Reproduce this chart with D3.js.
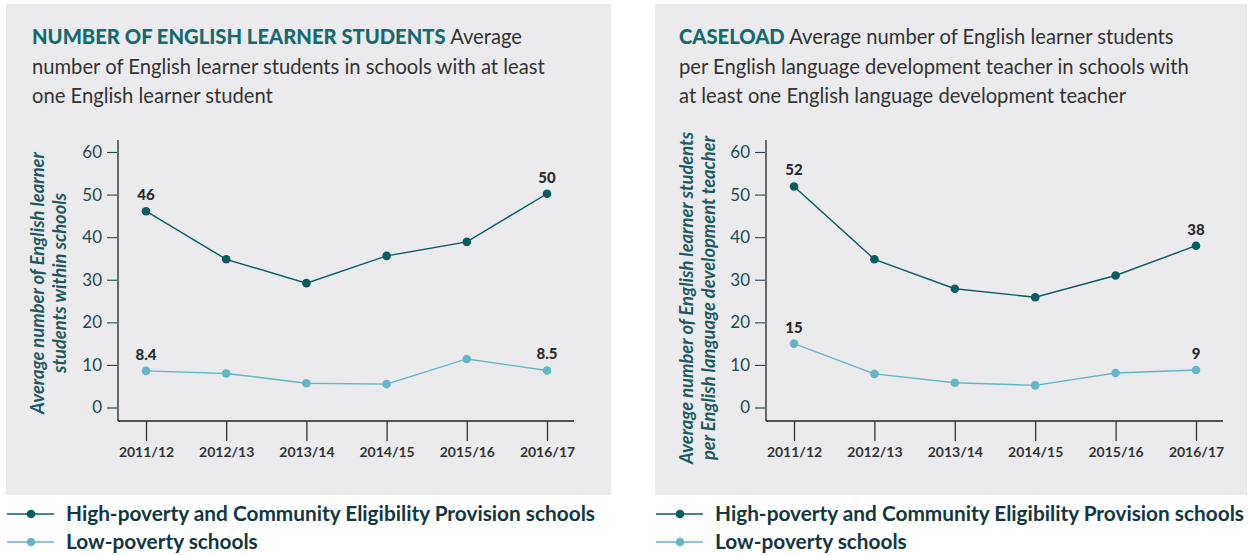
<!DOCTYPE html>
<html>
<head>
<meta charset="utf-8">
<script src="https://cdn.jsdelivr.net/npm/d3@7/dist/d3.min.js"></script>
<style>
  body { margin: 0; background: #fff; }
  svg { display: block; font-family: Lato, "Open Sans", sans-serif; }
</style>
</head>
<body>
<div id="chart"></div>
<script>
// values
const years = ["2011/12", "2012/13", "2013/14", "2014/15", "2015/16", "2016/17"]
const countHigh = [46.1, 34.8, 29.2, 35.6, 38.9, 50.2]
const countLow = [8.6, 8.0, 5.7, 5.5, 11.4, 8.7]
const caseHigh = [51.9, 34.8, 27.9, 25.9, 31.0, 38.0]
const caseLow = [15.0, 7.9, 5.8, 5.2, 8.1, 8.8]
// labels printed on the first and last point
const countLabels = { high: ["46", "50"], low: ["8.4", "8.5"] }
const caseLabels = { high: ["52", "38"], low: ["15", "9"] }
const yTicks = [0, 10, 20, 30, 40, 50, 60]
const seriesNames = ["High-poverty and Community Eligibility Provision schools", "Low-poverty schools"]

const darkTeal = "#0b5c61"
const lightBlue = "#63b6c7"
const titleTeal = "#146a6d"
const axisText = "#1e4850"

const width = 1252, height = 555

const svg = d3.select("#chart")
    .append("svg")
    .attr("width", width)
    .attr("height", height)

function drawPanel(opt) {
    const g = svg.append("g")

    g.append("rect")
        .attr("x", opt.bg[0]).attr("y", 4)
        .attr("width", opt.bg[1] - opt.bg[0]).attr("height", 491)
        .attr("fill", "#ebebed")

    // title block
    const title = g.append("text")
        .attr("x", opt.titleX)
        .attr("font-size", 20.2)
        .attr("fill", "#333")
    opt.title.forEach((line, i) => {
        const t = title.append("tspan")
            .attr("x", opt.titleX)
            .attr("y", 44 + i * 29.5)
        if (i == 0) {
            t.append("tspan")
                .attr("font-weight", 900)
                .attr("fill", titleTeal)
                .text(opt.bold)
            t.append("tspan").text(" " + line)
        } else {
            t.text(line)
        }
    })

    const x = d3.scalePoint()
        .domain(years)
        .range(opt.xRange)
    const y = d3.scaleLinear()
        .domain([0, 60])
        .range([407.5, 152])

    const axisY = 421

    // y axis
    g.append("line")
        .attr("x1", opt.axisX).attr("x2", opt.axisX)
        .attr("y1", 140).attr("y2", axisY)
        .attr("stroke", "#222").attr("stroke-width", 1.3)
    const ya = g.append("g")
        .attr("transform", `translate(${opt.axisX - 1},0)`)
        .call(d3.axisLeft(y).tickValues(yTicks).tickSize(10).tickPadding(5))
    ya.select(".domain").remove()
    ya.selectAll("line").attr("stroke", axisText).attr("stroke-width", 1.1)
    ya.selectAll("text")
        .attr("font-size", 17)
        .attr("font-family", "Lato, sans-serif")
        .attr("fill", axisText)

    // x axis
    g.append("line")
        .attr("x1", opt.axisX).attr("x2", opt.axisEnd)
        .attr("y1", axisY).attr("y2", axisY)
        .attr("stroke", "#222").attr("stroke-width", 1.3)
    const xa = g.append("g")
        .attr("transform", `translate(0,${axisY})`)
        .call(d3.axisBottom(x).tickSize(20).tickPadding(6))
    xa.select(".domain").remove()
    xa.selectAll("line").attr("stroke", "#333").attr("stroke-width", 1.3)
    xa.selectAll("text")
        .attr("font-size", 14)
        .attr("font-weight", 700)
        .attr("font-family", "Lato, sans-serif")
        .attr("fill", "#333")

    // y axis title
    const yt = g.append("text")
        .attr("transform", `translate(${opt.yTitleX},${opt.yTitleY}) rotate(-90)`)
        .attr("text-anchor", "middle")
        .attr("font-size", 18.3)
        .attr("font-weight", 700)
        .attr("font-style", "italic")
        .attr("fill", "#1c5a60")
    opt.yTitle.forEach((line, i) => {
        yt.append("tspan")
            .attr("x", 0)
            .attr("dy", i == 0 ? 0 : 22)
            .text(line)
    })

    const line = d3.line()
        .x((d, i) => x(years[i]))
        .y(d => y(d))

    const series = [
        { values: opt.high, color: darkTeal, labels: opt.labels.high },
        { values: opt.low, color: lightBlue, labels: opt.labels.low }
    ]
    series.forEach(s => {
        g.append("path")
            .datum(s.values)
            .attr("d", line)
            .attr("fill", "none")
            .attr("stroke", s.color)
            .attr("stroke-width", 1.4)
        g.selectAll(null)
            .data(s.values)
            .join("circle")
            .attr("cx", (d, i) => x(years[i]))
            .attr("cy", d => y(d))
            .attr("r", 4.3)
            .attr("fill", s.color)
        const ends = [0, s.values.length - 1]
        ends.forEach((idx, k) => {
            g.append("text")
                .attr("x", x(years[idx]))
                .attr("y", y(s.values[idx]) - 11)
                .attr("text-anchor", "middle")
                .attr("font-size", 15)
                .attr("font-weight", 900)
                .attr("fill", "#2b2b2b")
                .text(s.labels[k])
        })
    })

    // legend
    const colors = [darkTeal, lightBlue]
    seriesNames.forEach((name, i) => {
        const ly = 514 + i * 28
        g.append("line")
            .attr("x1", opt.legendX).attr("x2", opt.legendX + 47)
            .attr("y1", ly).attr("y2", ly)
            .attr("stroke", colors[i]).attr("stroke-width", 1.6)
        g.append("circle")
            .attr("cx", opt.legendX + 24).attr("cy", ly)
            .attr("r", 4.3)
            .attr("fill", colors[i])
        g.append("text")
            .attr("x", opt.legendX + 59)
            .attr("y", ly + 7)
            .attr("font-size", 20.8)
            .attr("font-weight", 700)
            .attr("fill", "#12373f")
            .text(name)
    })
}

drawPanel({
    bg: [6, 611],
    titleX: 32,
    bold: "NUMBER OF ENGLISH LEARNER STUDENTS",
    title: ["Average", "number of English learner students in schools with at least", "one English learner student"],
    xRange: [146, 547],
    axisX: 118,
    axisEnd: 574,
    yTitleX: 44,
    yTitleY: 283,
    yTitle: ["Average number of English learner", "students within schools"],
    high: countHigh,
    low: countLow,
    labels: countLabels,
    legendX: 7
})

drawPanel({
    bg: [655, 1247],
    titleX: 679,
    bold: "CASELOAD",
    title: ["Average number of English learner students", "per English language development teacher in schools with", "at least one English language development teacher"],
    xRange: [794, 1196],
    axisX: 766,
    axisEnd: 1223,
    yTitleX: 693,
    yTitleY: 298,
    yTitle: ["Average number of English learner students", "per English language development teacher"],
    high: caseHigh,
    low: caseLow,
    labels: caseLabels,
    legendX: 656
})
</script>
</body>
</html>
